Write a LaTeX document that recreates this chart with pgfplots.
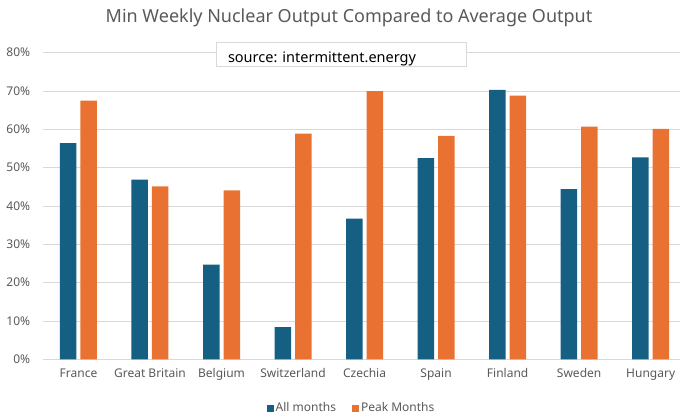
\documentclass[border=0pt]{standalone}
\usepackage{pgfplots}
\pgfplotsset{compat=1.18}
\usepackage{fontspec}
\setmainfont{Noto Sans}
\definecolor{cblue}{HTML}{156082}
\definecolor{corange}{HTML}{E97132}
\definecolor{ctext}{HTML}{595959}
\definecolor{cgrid}{HTML}{D9D9D9}
\begin{document}
\begin{tikzpicture}[x=1pt,y=1pt]
\path[use as bounding box] (0,0) rectangle (680,418);
\begin{axis}[
  at={(42.7pt,58.7pt)}, anchor=south west,
  scale only axis, width=637.3pt, height=306.6pt,
  ybar=4pt, bar width=16.5pt,
  xmin=-0.5, xmax=8.41, ymin=0, ymax=80,
  xtick={0,...,8},
  xticklabels={France,Great Britain,Belgium,Switzerland,Czechia,Spain,Finland,Sweden,Hungary},
  ytick={0,10,...,80},
  yticklabels={0\%,10\%,20\%,30\%,40\%,50\%,60\%,70\%,80\%},
  major tick length=0pt,
  axis line style={draw=none},
  ymajorgrids, grid style={cgrid, line width=0.9pt},
  tick label style={font=\fontsize{12}{14}\selectfont, text=ctext},
  yticklabel style={xshift=-9pt},
  xticklabel style={yshift=-6pt},
  legend style={at={(axis description cs:0.4846,-0.159)}, anchor=center,
    draw=none, fill=none, legend columns=2,
    font=\fontsize{12}{14}\selectfont, text=ctext,
    /tikz/every even column/.append style={column sep=14pt}},
  legend image code/.code={\fill[#1] (0pt,-3.5pt) rectangle (7pt,3.5pt);},
  clip=false,
]
\addplot[fill=cblue, draw=none] coordinates {(0,56.4) (1,46.9) (2,24.7) (3,8.4) (4,36.7) (5,52.5) (6,70.3) (7,44.4) (8,52.7)};
\addplot[fill=corange, draw=none] coordinates {(0,67.5) (1,45.1) (2,44.1) (3,58.9) (4,70.0) (5,58.3) (6,68.8) (7,60.7) (8,60.1)};
\legend{All months, Peak Months}
\end{axis}
\node[text=ctext, font=\fontsize{18}{20}\selectfont] at (349,400) {Min Weekly Nuclear Output Compared to Average Output};
\filldraw[fill=white, draw=cgrid, line width=0.8pt] (216.7,418-42.7) rectangle (466.7,418-66);
\node[anchor=base west, inner sep=0pt, font=\fontsize{14.5}{16}\selectfont, text=black] at (227.8,418-63) {source: intermittent.energy};
\end{tikzpicture}
\end{document}
